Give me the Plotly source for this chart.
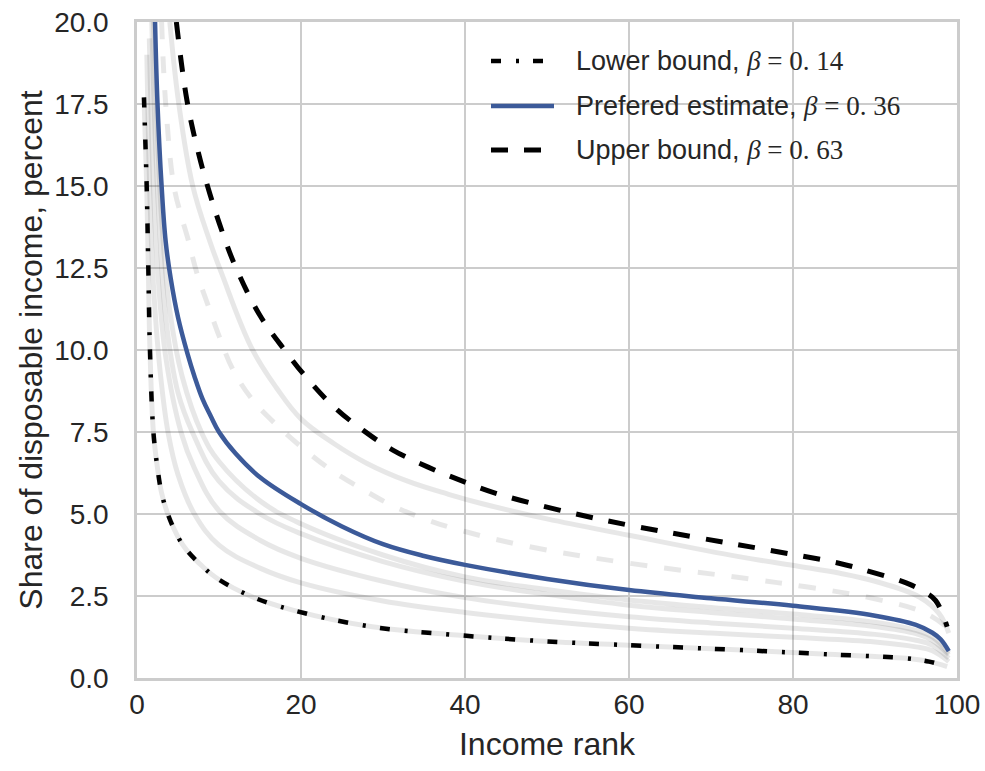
import plotly.graph_objects as go

# ---------------- data ----------------
lower_x = [0.85, 1.0, 1.18, 1.38, 1.58, 2.0, 2.5, 3.0, 3.8, 5, 6.05, 8, 9.7, 14.1, 19, 28.7, 39, 49, 60, 73.8, 83.6, 93.8, 96.6, 98.8]
lower_y = [17.7, 16.5, 15.0, 12.5, 10.0, 7.5, 6.4, 5.64, 4.97, 4.3, 3.9, 3.4, 3.05, 2.47, 2.07, 1.56, 1.31, 1.13, 1.0, 0.85, 0.73, 0.6, 0.5, 0.35]

pref_x = [2.2, 2.5, 3.0, 3.5, 4.1, 5, 6.2, 7, 8, 9, 10, 12, 15, 20, 25, 30, 35, 40, 50, 60, 70, 80, 90, 95, 97, 98, 99]
pref_y = [20, 17.5, 15, 13.3, 12.2, 11.0, 9.85, 9.2, 8.5, 7.98, 7.5, 6.85, 6.12, 5.3, 4.62, 4.08, 3.72, 3.45, 3.02, 2.68, 2.43, 2.2, 1.9, 1.62, 1.38, 1.18, 0.82]

upper_x = [4.8, 6.1, 7.5, 8.9, 10.4, 12, 15, 18, 20.7, 24.1, 27.6, 31.2, 35.5, 39, 43.4, 51.5, 60, 68.6, 77, 85.6, 89.6, 93.8, 96, 97.4, 98.8]
upper_y = [20, 17.6, 16.0, 14.75, 13.6, 12.55, 11.05, 10.0, 9.15, 8.25, 7.55, 6.95, 6.43, 6.07, 5.66, 5.12, 4.66, 4.27, 3.9, 3.5, 3.23, 2.9, 2.63, 2.36, 1.56]

# grey background estimates
g_near_upper_x = [4.0, 5.1, 6.8, 8.9, 10.3, 14, 17, 20, 24, 28, 33, 38, 42, 50, 60, 73.4, 80.8, 85.6, 90, 95.4, 97.8, 99]
g_near_upper_y = [20, 17.5, 15, 13.3, 12.35, 10.05, 8.85, 7.9, 7.15, 6.55, 6.0, 5.6, 5.32, 4.85, 4.35, 3.7, 3.4, 3.2, 2.95, 2.47, 1.97, 1.37]

g_dashed_x = [3.0, 3.5, 4.5, 5.5, 6.2, 7.3, 8.9, 9.9, 11.7, 14.1, 17.0, 20.5, 23.9, 27.4, 31.2, 35.3, 39.5, 47.9, 60, 73.2, 81.6, 89.7, 96.2, 99]
g_dashed_y = [20, 17.5, 15, 14.0, 13.4, 12.35, 11.2, 10.5, 9.4, 8.48, 7.72, 6.95, 6.3, 5.77, 5.25, 4.83, 4.5, 4.0, 3.5, 3.07, 2.78, 2.43, 1.97, 1.5]

g4_x = [2.0, 2.5, 3.0, 4.0, 5.5, 7.9, 10, 15, 20, 30, 40, 50, 60, 70, 80, 90, 95, 97, 99]
g4_y = [20, 16.5, 14.0, 11.2, 9.2, 7.47, 6.6, 5.4, 4.7, 3.75, 3.08, 2.7, 2.38, 2.15, 1.95, 1.7, 1.45, 1.25, 0.75]

g5_x = [1.8, 2.3, 2.8, 3.5, 5, 6.8, 10, 15, 20, 30, 40, 50, 60, 70, 80, 90, 95, 97, 99]
g5_y = [20, 16, 13.5, 11.0, 8.7, 7.47, 6.0, 5.0, 4.4, 3.55, 2.95, 2.55, 2.22, 2.0, 1.8, 1.57, 1.35, 1.15, 0.7]

g6_x = [1.5, 2.0, 2.5, 3.5, 5.4, 7, 10, 15, 20, 30, 40, 50, 60, 70, 80, 90, 95, 97, 99]
g6_y = [19.5, 15.0, 12.5, 9.8, 7.47, 6.4, 5.1, 4.2, 3.65, 2.95, 2.45, 2.12, 1.87, 1.68, 1.52, 1.33, 1.15, 1.0, 0.6]

g7_x = [1.2, 1.6, 2.0, 2.8, 3.8, 5, 7, 10, 15, 20, 30, 40, 50, 60, 70, 80, 90, 95, 97, 99]
g7_y = [19, 14.5, 12, 9.4, 7.47, 6.2, 5.0, 4.05, 3.35, 2.9, 2.35, 2.0, 1.73, 1.52, 1.37, 1.24, 1.1, 0.95, 0.83, 0.5]

labels = ["Lower bound, ", "Prefered estimate, ", "Upper bound, "]
betas = ["0. 14", "0. 36", "0. 63"]

x_ticks = [0, 20, 40, 60, 80, 100]
y_ticks = [0, 2.5, 5, 7.5, 10, 12.5, 15, 17.5, 20]

# ---------------- styling ----------------
GREY = "rgba(0,0,0,0.095)"
BLUE = "#3c5a99"
TXT = "#262626"
SANS = "Liberation Sans, Arial, sans-serif"
SERIF = "Liberation Serif, DejaVu Serif, serif"
DASHDOT = "10px,15px,3px,14px"
DASH = "17px,16px"
SMOOTH = 1.1

fig = go.Figure()

greys = [
    (lower_x, lower_y, "solid"),
    (g7_x, g7_y, "solid"),
    (g6_x, g6_y, "solid"),
    (g5_x, g5_y, "solid"),
    (g4_x, g4_y, "solid"),
    (g_dashed_x, g_dashed_y, "17px,17px"),
    (g_near_upper_x, g_near_upper_y, "solid"),
]
for gx, gy, dsh in greys:
    fig.add_trace(go.Scatter(x=gx, y=gy, mode="lines", showlegend=False, hoverinfo="skip",
                             line=dict(color=GREY, width=5, dash=dsh, shape="spline", smoothing=SMOOTH)))

fig.add_trace(go.Scatter(x=lower_x, y=lower_y, mode="lines", showlegend=False,
                         line=dict(color="black", width=4.5, dash=DASHDOT, shape="spline", smoothing=SMOOTH)))
fig.add_trace(go.Scatter(x=pref_x, y=pref_y, mode="lines", showlegend=False,
                         line=dict(color=BLUE, width=4.5, shape="spline", smoothing=SMOOTH)))
fig.add_trace(go.Scatter(x=upper_x, y=upper_y, mode="lines", showlegend=False,
                         line=dict(color="black", width=5, dash=DASH, shape="spline", smoothing=SMOOTH)))

# ---------------- manual legend ----------------
L, R, T, B = 137, 28, 22, 93
W, H = 985 - L - R, 771 - T - B
def px2paper(px, py):
    return (px - L) / W, (771 - B - py) / H

rows_py = [61, 106, 150]
styles = [dict(color="black", width=4.5, dash=DASHDOT),
          dict(color=BLUE, width=4.5),
          dict(color="black", width=5, dash=DASH)]
for lab, b, py, st in zip(labels, betas, rows_py, styles):
    x0, y0 = px2paper(491, py)
    x1, _ = px2paper(554, py)
    fig.add_shape(type="line", xref="paper", yref="paper", x0=x0, x1=x1, y0=y0, y1=y0, line=st)
    tx, _ = px2paper(574, py)
    fig.add_annotation(xref="paper", yref="paper", x=tx, y=y0, xanchor="left", yanchor="middle",
                       showarrow=False,
                       text=lab + "<span style='font-family:" + SERIF + "'><i>β</i> = " + b + "</span>",
                       font=dict(family=SANS, size=27, color=TXT))

fig.update_layout(
    width=985, height=771,
    margin=dict(l=L, r=R, t=T, b=B, autoexpand=False),
    paper_bgcolor="white", plot_bgcolor="white",
    font=dict(family=SANS, color=TXT),
)
fig.update_xaxes(range=[0, 100], tickvals=x_ticks, ticktext=[str(v) for v in x_ticks],
                 automargin=False,
                 showgrid=True, gridcolor="#cccccc", gridwidth=2, zeroline=False,
                 showline=True, mirror=True, linecolor="#cccccc", linewidth=2.5,
                 tickfont=dict(size=28, color=TXT), ticklabelstandoff=0,
                 title=dict(text="Income rank", font=dict(size=32, color=TXT), standoff=14))
fig.update_yaxes(range=[0, 20], tickvals=y_ticks, ticktext=["%.1f" % v for v in y_ticks],
                 automargin=False,
                 showgrid=True, gridcolor="#cccccc", gridwidth=2, zeroline=False,
                 showline=True, mirror=True, linecolor="#cccccc", linewidth=2.5,
                 tickfont=dict(size=28, color=TXT), ticklabelstandoff=20,
                 title=dict(text="Share of disposable income, percent", font=dict(size=32, color=TXT), standoff=2))

fig.write_html("out.html", config={"displayModeBar": False},
               post_script="document.body.style.margin='0';")
